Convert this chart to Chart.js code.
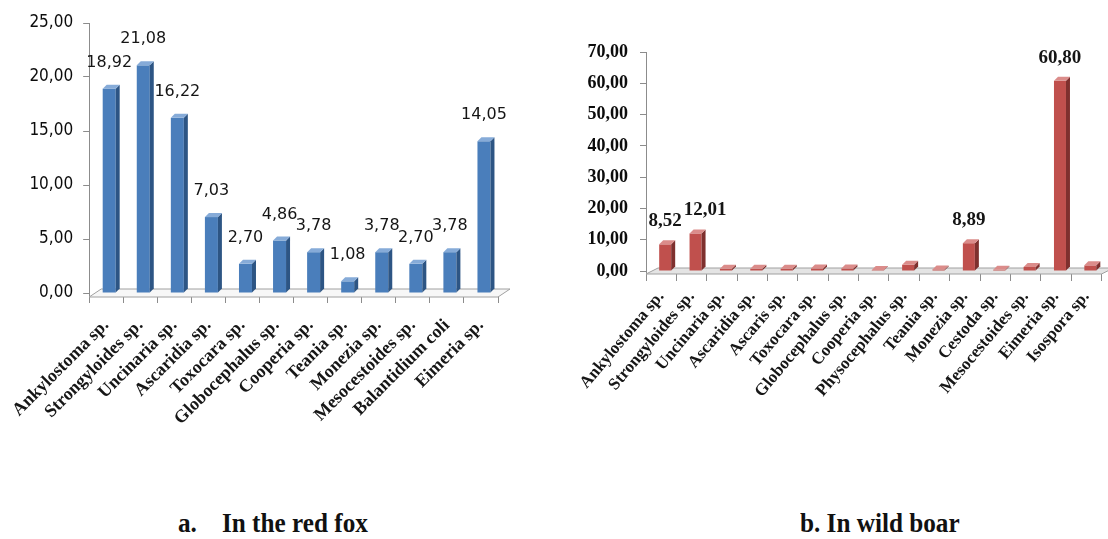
<!DOCTYPE html>
<html>
<head>
<meta charset="utf-8">
<script src="https://cdn.jsdelivr.net/npm/chart.js@4.4.0/dist/chart.umd.min.js"></script>
<style>
  html,body{margin:0;padding:0;background:#fff;}
  body{width:1108px;height:539px;position:relative;overflow:hidden;}
  #foxWrap{position:absolute;left:0;top:0;width:540px;height:440px;}
  #boarWrap{position:absolute;left:560px;top:0;width:548px;height:440px;}
  .cap{position:absolute;top:507px;font-family:"Liberation Serif",serif;font-weight:bold;font-size:28px;color:#111;
       transform:scaleX(.9);transform-origin:left top;white-space:pre;}
</style>
</head>
<body>
<div id="foxWrap"><canvas id="foxChart" width="540" height="440"></canvas></div>
<div id="boarWrap"><canvas id="boarChart" width="548" height="440"></canvas></div>
<div class="cap" style="left:178px">a.</div>
<div class="cap" style="left:222px">In the red fox</div>
<div class="cap" style="left:800px">b. In wild boar</div>
<script>
// red fox
const foxLabels = ['Ankylostoma sp.','Strongyloides sp.','Uncinaria sp.','Ascaridia sp.','Toxocara sp.',
  'Globocephalus sp.','Cooperia sp.','Teania sp.','Monezia sp.','Mesocestoides sp.','Balantidium coli','Eimeria sp.'];
const foxValues = [18.92, 21.08, 16.22, 7.03, 2.70, 4.86, 3.78, 1.08, 3.78, 2.70, 3.78, 14.05];
const foxTicks = {min:0, max:25, step:5};

// wild boar
const boarLabels = ['Ankylostoma sp.','Strongyloides sp.','Uncinaria sp.','Ascaridia sp.','Ascaris sp.','Toxocara sp.',
  'Globocephalus sp.','Cooperia sp.','Physocephalus sp.','Teania sp.','Monezia sp.','Cestoda sp.',
  'Mesocestoides sp.','Eimeria sp.','Isospora sp.'];
const boarValues = [8.52, 12.01, 0.7, 0.7, 0.7, 0.8, 0.8, 0.3, 2.0, 0.5, 8.89, 0.4, 1.3, 60.80, 1.8];
const boarTicks = {min:0, max:70, step:10};

const fmt = v => Number(v).toFixed(2).replace('.', ',');

// fake excel 3d look: floor, front/side/top faces, value labels
const bar3d = {
  id:'bar3d',
  beforeDatasetsDraw(chart, args, o){
    const {ctx, chartArea:a} = chart;
    const d = o.floor;
    ctx.save();
    ctx.beginPath();
    ctx.moveTo(a.left, a.bottom+d);
    ctx.lineTo(a.right, a.bottom+d);
    ctx.lineTo(a.right+12, a.bottom-d);
    ctx.lineTo(a.left+12, a.bottom-d);
    ctx.closePath();
    ctx.fillStyle = o.floorFill;
    ctx.fill();
    ctx.strokeStyle = '#a0a0a0';
    ctx.lineWidth = 1;
    ctx.stroke();
    ctx.restore();
  },
  afterDatasetsDraw(chart, args, o){
    const {ctx} = chart;
    const meta = chart.getDatasetMeta(0);
    const vals = chart.data.datasets[0].data;
    const k = o.depth;
    ctx.save();
    meta.data.forEach((b, i)=>{
      const w = b.width/2, cx = b.x + o.shift, x0 = cx-w, x1 = cx+w;
      ctx.fillStyle = o.front;
      ctx.fillRect(x0, b.y, x1-x0, b.base-b.y);
      ctx.fillStyle = o.side;
      ctx.beginPath();
      ctx.moveTo(x1, b.y); ctx.lineTo(x1+k, b.y-k); ctx.lineTo(x1+k, b.base-k); ctx.lineTo(x1, b.base);
      ctx.closePath(); ctx.fill();
      ctx.fillStyle = o.top;
      ctx.beginPath();
      ctx.moveTo(x0, b.y); ctx.lineTo(x0+k, b.y-k); ctx.lineTo(x1+k, b.y-k); ctx.lineTo(x1, b.y);
      ctx.closePath(); ctx.fill();
    });
    ctx.font = o.labelFont;
    ctx.fillStyle = '#151515';
    ctx.textAlign = 'center';
    ctx.textBaseline = 'middle';
    let prev = null;
    meta.data.forEach((b, i)=>{
      if(vals[i] < o.minLabel) return;
      const t = fmt(vals[i]);
      const tw = ctx.measureText(t).width;
      let x = b.x + o.shift, y = b.y - o.gap;
      // push a label right when it would sit on the one before it
      if(o.avoid && prev && Math.abs(prev.y - y) < 20 && x - tw/2 < prev.r + 2){
        x = prev.r + 2 + tw/2;
      }
      ctx.fillText(t, x, y);
      prev = {r:x + tw/2, y};
    });
    ctx.restore();
  }
};

function makeChart(id, labels, values, ticks, s){
  return new Chart(document.getElementById(id), {
    type:'bar',
    data:{ labels, datasets:[{ data:values, backgroundColor:'rgba(0,0,0,0)', barThickness:s.barW, borderWidth:0 }]},
    plugins:[bar3d],
    options:{
      responsive:false, animation:false,
      layout:{ padding:s.pad },
      plugins:{ legend:{display:false}, tooltip:{enabled:false}, bar3d:s.deco },
      scales:{
        x:{
          grid:{ offset:true, drawOnChartArea:false, drawTicks:true, tickLength:10, color:'#8c8c8c' },
          border:{ display:false },
          ticks:{ autoSkip:false, minRotation:s.rot, maxRotation:s.rot, padding:s.xPad, color:'#161616',
                  font:{ family:'"Liberation Serif", serif', weight:'bold', size:s.xSize } },
          afterFit(sc){ sc.height = s.xH; }
        },
        y:{
          min:ticks.min, max:ticks.max,
          grid:{ drawOnChartArea:false, drawTicks:true, tickLength:6, color:'#8c8c8c' },
          border:{ display:true, color:'#8c8c8c' },
          ticks:{ stepSize:ticks.step, padding:s.yPad, color:'#0c0c0c', font:s.yFont, callback:v=>fmt(v) },
          afterFit(sc){ sc.width = s.yW; }
        }
      }
    }
  });
}

makeChart('foxChart', foxLabels, foxValues, foxTicks, {
  barW:13, rot:45, xPad:12, xSize:18, xH:147, yW:88, yPad:10,
  yFont:{ family:'"DejaVu Sans Condensed","DejaVu Sans",sans-serif', size:17 },
  pad:{ top:23, right:42, left:0, bottom:0 },
  deco:{ front:'#4A7EBB', side:'#2D5584', top:'#86ABD8', depth:4, shift:3, floor:4, floorFill:'#f7f7f7',
         labelFont:'16px "DejaVu Sans", sans-serif', gap:26, minLabel:0, avoid:false }
});

makeChart('boarChart', boarLabels, boarValues, boarTicks, {
  barW:12, rot:50, xPad:6, xSize:17, xH:169, yW:86, yPad:12,
  yFont:{ family:'"Liberation Serif", serif', size:18, weight:'bold' },
  pad:{ top:52, right:1, left:0, bottom:0 },
  deco:{ front:'#C0504D', side:'#7E302E', top:'#DB8C8A', depth:4, shift:4, floor:3, floorFill:'#e4e4e4',
         labelFont:'bold 19px "Liberation Serif", serif', gap:23, minLabel:5, avoid:true }
});
</script>
</body>
</html>
